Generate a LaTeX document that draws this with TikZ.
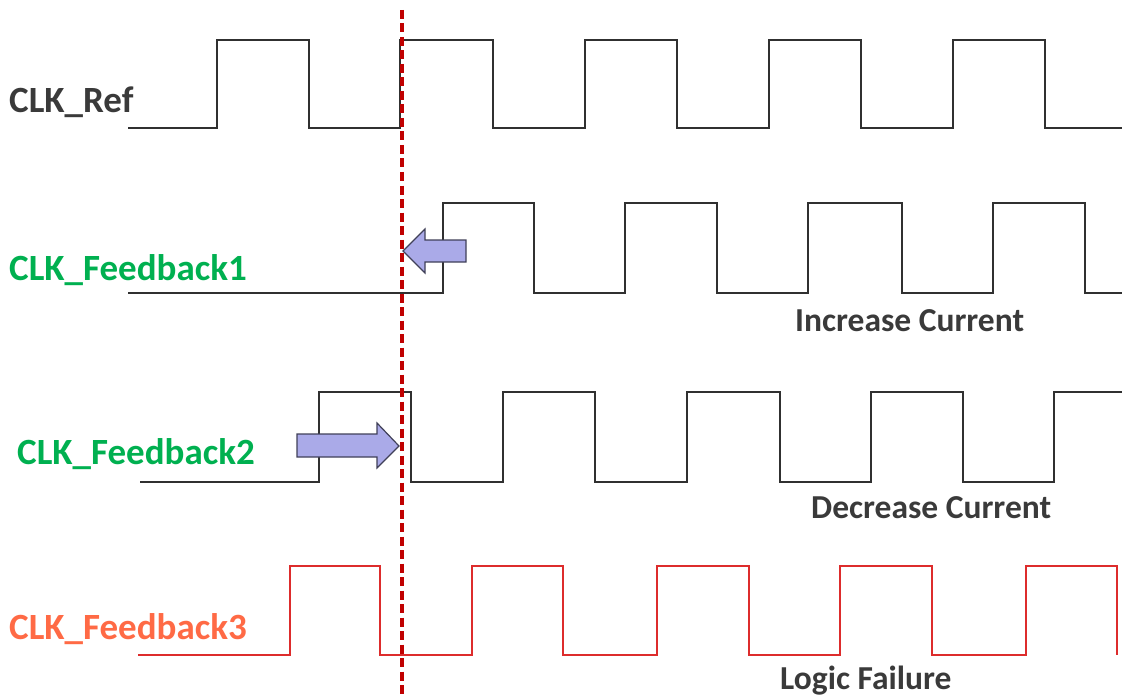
\documentclass[tikz,border=0pt]{standalone}
\usepackage{fontspec}
\setmainfont{Carlito}
\definecolor{wave}{HTML}{303030}
\definecolor{txtgray}{HTML}{3A3A3A}
\definecolor{fbgreen}{HTML}{00B050}
\definecolor{fbcoral}{HTML}{FF6A45}
\definecolor{failred}{HTML}{DD2C2C}
\definecolor{dashred}{HTML}{C00000}
\definecolor{arrowfill}{HTML}{AAAAE8}
\definecolor{arrowedge}{HTML}{404058}
\tikzset{
  wavepath/.style={draw=wave, line width=1.5pt},
  failwave/.style={draw=failred, line width=1.4pt},
  siglabel/.style={anchor=base west, inner sep=0pt, font=\fontsize{37}{42}\selectfont\bfseries},
  notelabel/.style={anchor=base west, inner sep=0pt, text=txtgray, font=\fontsize{33.5}{38}\selectfont\bfseries},
  shiftarrow/.style={fill=arrowfill, draw=arrowedge, line width=1.2pt, line join=miter},
  refline/.style={draw=dashred, line width=3.5pt, dash pattern=on 9pt off 4.5pt}
}
\begin{document}
\begin{tikzpicture}[x=1pt,y=-1pt]
\useasboundingbox (0,0) rectangle (1122,698);
% labels
\node[siglabel, text=txtgray] (lref) at (9,113) {CLK\_Ref};
\node[siglabel, text=fbgreen] (lfb1) at (9,280) {CLK\_Feedback1};
\node[siglabel, text=fbgreen] (lfb2) at (17,464) {CLK\_Feedback2};
\node[siglabel, text=fbcoral] (lfb3) at (9,639) {CLK\_Feedback3};
\node[notelabel] (ninc) at (795,331) {Increase Current};
\node[notelabel] (ndec) at (811,518) {Decrease Current};
\node[notelabel] (nfail) at (780,689) {Logic Failure};
% CLK_Ref
\draw[wavepath] (128,128) -- (217,128) -- (217,40) -- (309,40) -- (309,128) -- (400,128) -- (400,40) -- (493,40) -- (493,128) -- (585,128) -- (585,40) -- (677,40) -- (677,128) -- (769,128) -- (769,40) -- (861,40) -- (861,128) -- (953,128) -- (953,40) -- (1045,40) -- (1045,128) -- (1122,128);
% CLK_Feedback1
\draw[wavepath] (128,293) -- (443,293) -- (443,203) -- (534,203) -- (534,293) -- (625,293) -- (625,203) -- (717,203) -- (717,293) -- (808,293) -- (808,203) -- (902,203) -- (902,293) -- (993,293) -- (993,203) -- (1085,203) -- (1085,293) -- (1122,293);
% CLK_Feedback2
\draw[wavepath] (140,482) -- (319,482) -- (319,392) -- (411,392) -- (411,482) -- (503,482) -- (503,392) -- (595,392) -- (595,482) -- (687,482) -- (687,392) -- (780,392) -- (780,482) -- (871,482) -- (871,392) -- (963,392) -- (963,482) -- (1054,482) -- (1054,392) -- (1122,392);
% CLK_Feedback3
\draw[failwave] (138,655) -- (290,655) -- (290,566) -- (380,566) -- (380,655) -- (472,655) -- (472,566) -- (563,566) -- (563,655) -- (657,655) -- (657,566) -- (749,566) -- (749,655) -- (840,655) -- (840,566) -- (932,566) -- (932,655) -- (1026,655) -- (1026,566) -- (1117,566) -- (1117,655);
% shift arrows
\draw[shiftarrow] (403,251) -- (425,229) -- (425,240) -- (466,240) -- (466,262) -- (425,262) -- (425,273) -- cycle;
\draw[shiftarrow] (399,446) -- (377,423) -- (377,434) -- (297,434) -- (297,457) -- (377,457) -- (377,468) -- cycle;
% reference line
\coordinate (rtop) at (402,10);
\coordinate (rbot) at (402,698);
\draw[refline] (rtop) -- (rbot);
\end{tikzpicture}
\end{document}
